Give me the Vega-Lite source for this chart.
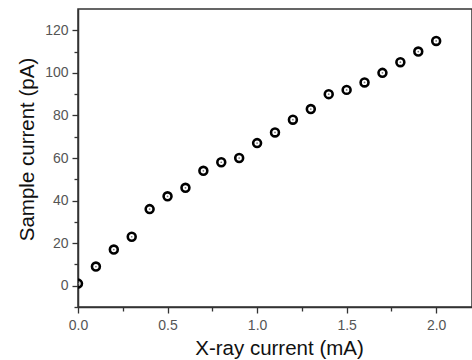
{
  "$schema": "https://vega.github.io/schema/vega-lite/v6.json",
  "width": 394,
  "height": 298,
  "autosize": {"type": "none"},
  "padding": {"left": 78, "top": 9, "right": 0, "bottom": 53},
  "background": "white",
  "config": {
    "view": {"stroke": "#333", "strokeWidth": 1.5},
    "axis": {"grid": false, "domainColor": "#333", "domainWidth": 1.5, "tickColor": "#333", "tickWidth": 1.3,
             "labelFont": "Liberation Sans", "labelColor": "#555", "labelFontSize": 14,
             "titleFont": "Liberation Sans", "titleFontWeight": "normal", "titleColor": "#111", "titleFontSize": 20.5}
  },
  "data": {"values": [
    {"x": 0.0, "y": 1}, {"x": 0.1, "y": 9}, {"x": 0.2, "y": 17}, {"x": 0.3, "y": 23},
    {"x": 0.4, "y": 36}, {"x": 0.5, "y": 42}, {"x": 0.6, "y": 46}, {"x": 0.7, "y": 54},
    {"x": 0.8, "y": 58}, {"x": 0.9, "y": 60}, {"x": 1.0, "y": 67}, {"x": 1.1, "y": 72},
    {"x": 1.2, "y": 78}, {"x": 1.3, "y": 83}, {"x": 1.4, "y": 90}, {"x": 1.5, "y": 92},
    {"x": 1.6, "y": 95.5}, {"x": 1.7, "y": 100}, {"x": 1.8, "y": 105}, {"x": 1.9, "y": 110},
    {"x": 2.0, "y": 115}
  ]},
  "layer": [
    {
      "mark": {"type": "point", "shape": "circle", "filled": false, "stroke": "black", "strokeWidth": 2.6, "size": 62, "clip": true, "opacity": 1},
      "encoding": {
        "x": {"field": "x", "type": "quantitative", "scale": {"domain": [0, 2.2], "nice": false, "zero": false},
              "axis": {"values": [0, 0.5, 1, 1.5, 2], "format": ".1f", "tickSize": 6, "labelPadding": 5, "title": "X-ray current (mA)", "titleBaseline": "alphabetic", "titleY": 47, "titleX": 201, "titleAnchor": "middle", "labelFlush": false}},
        "y": {"field": "y", "type": "quantitative", "scale": {"domain": [-10, 130], "nice": false, "zero": false},
              "axis": {"values": [0, 20, 40, 60, 80, 100, 120], "tickSize": 6, "labelPadding": 4, "title": "Sample current (pA)", "titleX": -41, "titleY": 140, "titleAnchor": "middle", "labelFlush": false}}
      }
    },
    {
      "mark": {"type": "point", "shape": "circle", "filled": true, "color": "#777", "size": 3, "opacity": 1, "clip": true},
      "encoding": {
        "x": {"field": "x", "type": "quantitative",
              "axis": {"orient": "bottom", "values": [0.25, 0.75, 1.25, 1.75], "labels": false, "domain": false, "tickSize": 4, "title": null}},
        "y": {"field": "y", "type": "quantitative",
              "axis": {"orient": "left", "values": [-10, 10, 30, 50, 70, 90, 110], "labels": false, "domain": false, "tickSize": 4, "title": null}}
      }
    }
  ],
  "resolve": {"axis": {"x": "independent", "y": "independent"}}
}
